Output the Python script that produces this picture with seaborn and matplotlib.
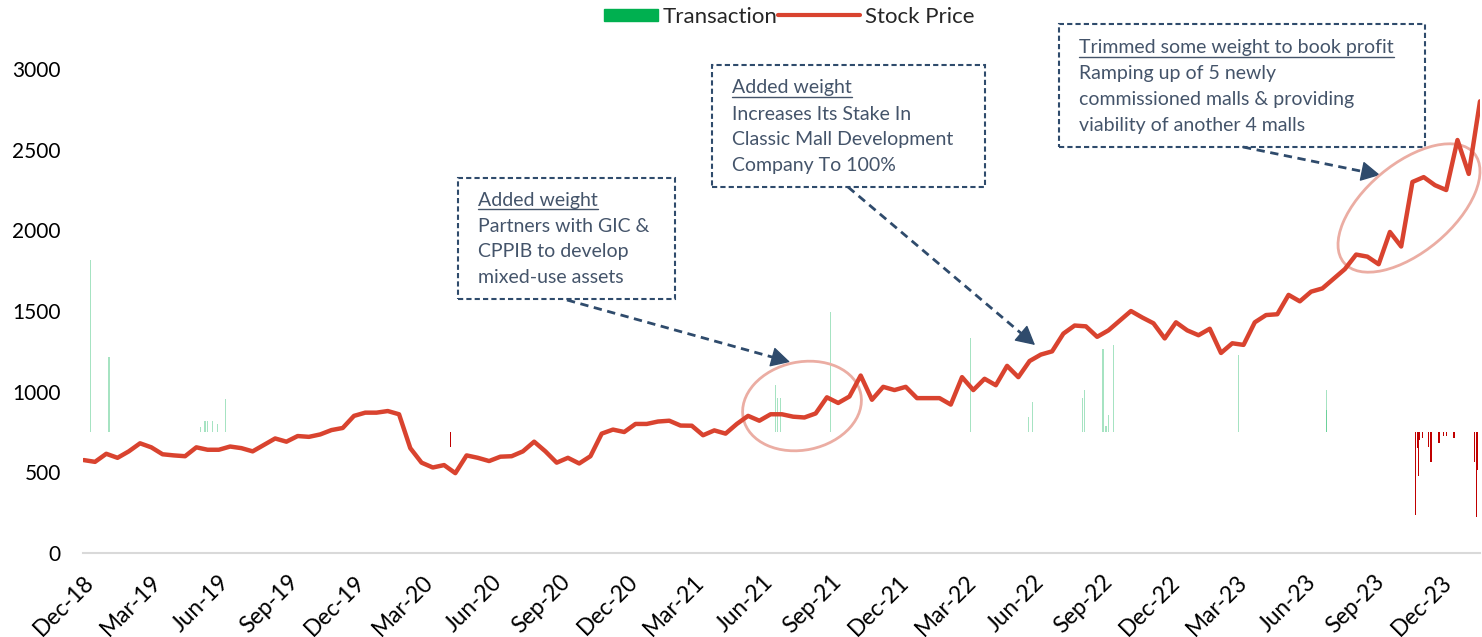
import numpy as np
import pandas as pd
import matplotlib
matplotlib.use("Agg")
import matplotlib.pyplot as plt
import matplotlib.dates as mdates
from matplotlib.patches import Rectangle, Ellipse, Patch, FancyArrowPatch, ArrowStyle
from matplotlib.lines import Line2D
from matplotlib.transforms import IdentityTransform, ScaledTranslation
import seaborn as sns

W, H = 1482, 637

# ── data: stock price at ~half-month steps ────────────────────────────────
price_start, price_end = "2018-12-01", "2024-01-22"
stock_price = [
    576, 565, 615, 590, 630, 680, 655, 612, 605, 600,
    655, 640, 640, 660, 650, 630, 670, 710, 690, 725,
    720, 735, 762, 775, 850, 870, 870, 880, 860, 650,
    560, 530, 545, 495, 605, 590, 570, 597, 600, 630,
    690, 630, 560, 590, 555, 600, 740, 765, 750, 800,
    800, 815, 820, 790, 789, 730, 760, 740, 800, 850,
    820, 860, 860, 845, 840, 865, 965, 930, 970, 1100,
    950, 1030, 1010, 1030, 960, 960, 960, 920, 1090, 1010,
    1080, 1040, 1160, 1090, 1190, 1230, 1250, 1360, 1410, 1405,
    1340, 1380, 1440, 1500, 1460, 1424, 1330, 1430, 1380, 1350,
    1390, 1240, 1300, 1290, 1430, 1475, 1480, 1600, 1560, 1620,
    1640, 1700, 1760, 1850, 1837, 1790, 1990, 1900, 2300, 2330,
    2280, 2250, 2560, 2350, 2800,
]
price_dates = pd.date_range(price_start, price_end, periods=len(stock_price))

# transactions (buy > 0, sell < 0), arbitrary units
txn_dates = [
    "2018-12-10", "2019-01-04", "2019-05-07", "2019-05-13", "2019-05-17",
    "2019-05-23", "2019-05-30", "2019-06-10", "2020-04-07", "2021-06-18",
    "2021-06-21", "2021-06-25", "2021-08-31", "2022-03-08", "2022-05-25",
    "2022-05-30", "2022-08-05", "2022-08-08", "2022-09-02", "2022-09-06",
    "2022-09-09", "2022-09-16", "2023-03-03", "2023-06-29", "2023-06-30",
    "2023-10-27", "2023-10-30", "2023-10-31", "2023-11-02", "2023-11-06",
    "2023-11-14", "2023-11-17", "2023-11-27", "2023-11-28", "2023-12-04",
    "2023-12-08", "2023-12-18", "2024-01-15", "2024-01-17", "2024-01-18",
    "2024-01-19",
]
txn_values = [
    1066, 465, 30, 68, 68,
    68, 50, 205, -93, 291,
    211, 211, 744, 583, 93,
    186, 211, 260, 514, 40,
    105, 539, 477, 260, 136,
    -514, -99, -273, -50, -37,
    -93, -186, -68, -68, -25,
    -25, -37, -186, -527, -70,
    -236,
]

y_ticks = [0, 500, 1000, 1500, 2000, 2500, 3000]

GREEN = "#00B050"
RED_BAR = "#C00000"
LINE = "#D9432F"
NAVY = "#2F4B6C"
TXT = "#44546A"
RING = "#EBADA3"

sns.set_theme(style="white")
plt.rcParams["font.family"] = ["Lato", "DejaVu Sans"]

fig = plt.figure(figsize=(W / 100, H / 100), dpi=100)
ax = fig.add_axes([83 / W, 1 - 553 / H, (1480 - 83) / W, (553 - 30) / H])
ax2 = ax.twinx()

# transactions on a hidden secondary axis, zero line sits at ~750 of the price axis
td = pd.to_datetime(txn_dates)
tv = np.array(txn_values)
ax2.bar(td[tv > 0], tv[tv > 0], width=1.6, color=GREEN, alpha=0.35, lw=0)
ax2.bar(td[tv < 0], tv[tv < 0], width=1.8, color=RED_BAR, lw=0)
ax2.set_ylim(-750, 3242 - 750)
ax2.axis("off")

ax.set_zorder(ax2.get_zorder() + 1)
ax.patch.set_visible(False)
sns.lineplot(x=price_dates, y=stock_price, ax=ax, color=LINE, lw=3.2)

ax.set_ylim(0, 3242)
ax.set_yticks(y_ticks)
ax.set_xlim(pd.Timestamp("2018-11-30"), pd.Timestamp("2024-01-22"))
ax.xaxis.set_major_locator(mdates.MonthLocator(bymonth=[3, 6, 9, 12]))
ax.xaxis.set_major_formatter(mdates.DateFormatter("%b-%y"))
ax.tick_params(axis="y", length=0, pad=16, labelsize=15, labelcolor="black")
ax.tick_params(axis="x", length=0, pad=4, labelsize=16.5, labelcolor="black")
shift = ScaledTranslation(0.07, -0.2, fig.dpi_scale_trans)
for lab in ax.get_xticklabels():
    lab.set_rotation(45)
    lab.set_ha("right")
    lab.set_va("center")
    lab.set_rotation_mode("anchor")
    lab.set_transform(lab.get_transform() + shift)
ax.set_xlabel("")
ax.set_ylabel("")
for s in ["left", "right", "top"]:
    ax.spines[s].set_visible(False)
ax.spines["bottom"].set_color("#D9D9D9")
ax.spines["bottom"].set_linewidth(1.5)

# legend: two pieces so the line key can be longer than the patch key
leg_y = 1 - 17 / H
fig.legend([Patch(color=GREEN)], ["Transaction"], loc="center left",
           bbox_to_anchor=(604 / W, leg_y), frameon=False, fontsize=16,
           handlelength=2.45, handleheight=0.5, handletextpad=0.2,
           borderpad=0, borderaxespad=0)
fig.legend([Line2D([], [], color=LINE, lw=3)], ["Stock Price"], loc="center left",
           bbox_to_anchor=(778 / W, leg_y), frameon=False, fontsize=16,
           handlelength=3.7, handletextpad=0.2, borderpad=0, borderaxespad=0)


# ── annotations (image pixel coordinates) ─────────────────────────────────
def fx(x):
    return x / W


def fy(y):
    return 1 - y / H


notes = [
    dict(box=(458, 178, 675, 299), x=478, ys=[200, 226, 252, 277],
         title="Added weight",
         body=["Partners with GIC &", "CPPIB to develop", "mixed-use assets"],
         start=(567, 300), tip=(790, 362)),
    dict(box=(712, 65, 985, 187), x=732, ys=[88, 114, 140, 166],
         title="Added weight",
         body=["Increases Its Stake In", "Classic Mall Development", "Company To 100%"],
         start=(848, 187), tip=(1035, 345)),
    dict(box=(1059, 24, 1425, 147), x=1079, ys=[48, 73, 99, 125],
         title="Trimmed some weight to book profit",
         body=["Ramping up of 5 newly", "commissioned malls & providing",
               "viability of another 4 malls"],
         start=(1243, 147), tip=(1380, 175)),
]

titles = []
for n in notes:
    x0, y0, x1, y1 = n["box"]
    fig.add_artist(Rectangle((fx(x0), fy(y1)), fx(x1) - fx(x0), fy(y0) - fy(y1),
                             transform=fig.transFigure, fill=False, ec=NAVY,
                             lw=1.5, ls=(0, (2.5, 1.5))))
    t = fig.text(fx(n["x"]), fy(n["ys"][0]), n["title"], fontsize=14,
                 color=TXT, va="center", ha="left")
    titles.append((t, n["ys"][0]))
    for line, yy in zip(n["body"], n["ys"][1:]):
        fig.text(fx(n["x"]), fy(yy), line, fontsize=14, color=TXT,
                 va="center", ha="left")
    # dashed shaft + solid head
    sx, sy = n["start"]
    tx, ty = n["tip"]
    d = np.hypot(tx - sx, ty - sy)
    bx, by = tx - (tx - sx) / d * 14, ty - (ty - sy) / d * 14
    fig.add_artist(Line2D([fx(sx), fx(bx)], [fy(sy), fy(by)],
                          transform=fig.transFigure, color=NAVY, lw=2.0,
                          ls=(0, (3, 2))))
    fig.add_artist(FancyArrowPatch((fx(bx), fy(by)), (fx(tx), fy(ty)),
                                   transform=fig.transFigure,
                                   arrowstyle=ArrowStyle("-|>", head_length=0.6, head_width=0.32),
                                   mutation_scale=20, color=NAVY, lw=1,
                                   shrinkA=0, shrinkB=0))

# highlight rings
for cx, cy, w, h, ang in [(802, 406, 120, 88, 12), (1409, 208, 170, 88, 40)]:
    fig.add_artist(Ellipse((cx, H - cy), w, h, angle=ang,
                           transform=IdentityTransform(), fill=False,
                           ec=RING, lw=2.0))

# underline the headline of each note
fig.canvas.draw()
rend = fig.canvas.get_renderer()
for t, yy in titles:
    bb = t.get_window_extent(rend)
    fig.add_artist(Line2D([bb.x0, bb.x1], [H - (yy + 9), H - (yy + 9)],
                          transform=IdentityTransform(), color=TXT, lw=1.0))

fig.savefig("out.png", dpi=100)
